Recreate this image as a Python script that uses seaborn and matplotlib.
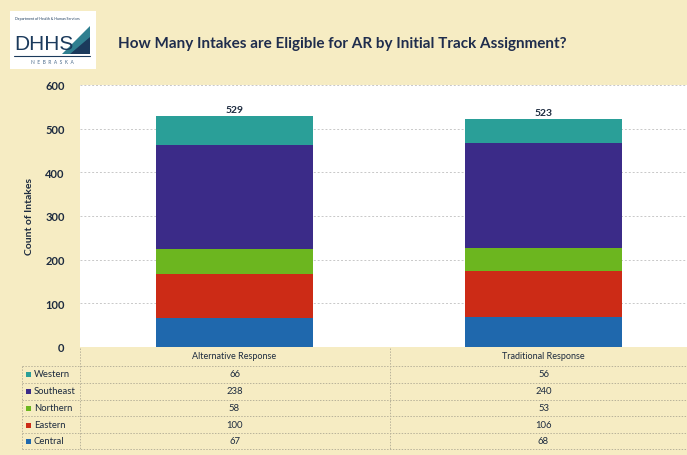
import matplotlib
matplotlib.use('Agg')
import matplotlib.pyplot as plt
import numpy as np
import pandas as pd
import seaborn as sns
from matplotlib.lines import Line2D
from matplotlib.patches import Rectangle, Polygon
from matplotlib.transforms import blended_transform_factory

# data
tracks = ['Alternative Response', 'Traditional Response']
regions = ['Central', 'Eastern', 'Northern', 'Southeast', 'Western']
central = [67, 68]
eastern = [100, 106]
northern = [58, 53]
southeast = [238, 240]
western = [66, 56]
totals = [529, 523]

colors = {'Central': '#1f68ad', 'Eastern': '#cc2b16', 'Northern': '#6cb61f',
          'Southeast': '#3b2b88', 'Western': '#2a9f98'}

df = pd.DataFrame({'Track': tracks, 'Central': central, 'Eastern': eastern,
                   'Northern': northern, 'Southeast': southeast, 'Western': western})
cum = df[regions].cumsum(axis=1)
cum['Track'] = df['Track']

sns.set_style('white')
plt.rcParams['font.family'] = ['Lato', 'DejaVu Sans']

W, H = 687, 456
bg = '#f6ecc3'
fig = plt.figure(figsize=(W / 100, H / 100), dpi=100)
fig.patch.set_facecolor(bg)

def fx(px):
    return px / W

def fy(py):
    return 1 - py / H

# plot area (right edge runs past the picture, as in the scan)
left, right, top, bottom = 80, 698, 86, 348
ax = fig.add_axes([fx(left), fy(bottom), fx(right - left), (bottom - top) / H])
ax.set_facecolor('white')

# stacked bars: draw cumulative heights from the top segment down
for reg in regions[::-1]:
    sns.barplot(data=cum, x='Track', y=reg, color=colors[reg], width=0.51,
                saturation=1, linewidth=0, ax=ax, zorder=3)

ax.set_ylim(0, 600)
ax.set_xlim(-0.5, 1.5)
ax.set_yticks(range(0, 601, 100))
ax.grid(axis='y', color='#c8c8c8', linestyle=(0, (2, 2)), linewidth=0.7, zorder=0)
for s in ax.spines.values():
    s.set_visible(False)
ax.tick_params(axis='y', length=0, pad=11, labelsize=8, labelcolor='#1d2b3f')
for t in ax.get_yticklabels():
    t.set_fontweight('bold')
ax.set_xlabel('')
ax.set_ylabel('Count of Intakes', fontsize=7.5, fontweight='bold', color='#1d2b3f', labelpad=8)
ax.set_xticks([0, 1])
ax.set_xticklabels(tracks, fontsize=6.5, color='#1d2b3f')
ax.tick_params(axis='x', length=0, pad=3)

for i, tot in enumerate(totals):
    ax.text(i, tot + 4, str(tot), ha='center', va='bottom', fontsize=7.5,
            fontweight='bold', color='#1d2b3f', zorder=4)

# data table under the chart
line_kw = dict(color='#b9b39a', linestyle=(0, (1.5, 1.5)), linewidth=0.7)
row_lines = [367, 384, 401, 417, 434, 450]
for y in row_lines:
    fig.add_artist(Line2D([fx(22), 1], [fy(y), fy(y)], **line_kw))
fig.add_artist(Line2D([fx(80), fx(80)], [fy(349), fy(450)], **line_kw))
fig.add_artist(Line2D([fx(22), fx(22)], [fy(367), fy(450)], **line_kw))
fig.add_artist(Line2D([fx(390), fx(390)], [fy(349), fy(450)], **line_kw))

trans = blended_transform_factory(ax.transData, fig.transFigure)
row_order = ['Western', 'Southeast', 'Northern', 'Eastern', 'Central']
row_y = [375, 392, 409, 426, 442]
for reg, y in zip(row_order, row_y):
    fig.add_artist(Rectangle((fx(26), fy(y) - 2.5 / H), 5 / W, 5 / H,
                             transform=fig.transFigure, facecolor=colors[reg],
                             edgecolor='none'))
    fig.text(fx(34), fy(y), reg, color='#1d2b3f', fontsize=6.8, va='center', ha='left')
    for i in range(len(tracks)):
        ax.text(i, fy(y), str(df.loc[i, reg]), transform=trans, ha='center',
                va='center', fontsize=6.8, color='#1d2b3f')

# title
fig.text(fx(118), fy(44), 'How Many Intakes are Eligible for AR by Initial Track Assignment?',
         fontsize=11, fontweight='bold', color='#1f2d4d', va='center', ha='left')

# logo block
fig.add_artist(Rectangle((fx(10), fy(70)), fx(86), (70 - 12) / H, transform=fig.transFigure,
                         facecolor='white', edgecolor='none'))
fig.text(fx(15), fy(19), 'Department of Health & Human Services', fontsize=2.6,
         color='#1b3a5c', va='center', ha='left')
fig.text(fx(14), fy(45), 'DHHS', fontsize=15, color='#1b3a5c', va='center', ha='left',
         family=['Liberation Sans Narrow', 'Liberation Sans', 'DejaVu Sans'])
fig.add_artist(Polygon([(fx(62), fy(55)), (fx(90), fy(55)), (fx(90), fy(27))],
                       closed=True, transform=fig.transFigure, facecolor='#2f7f90',
                       edgecolor='none'))
fig.add_artist(Polygon([(fx(70), fy(55)), (fx(90), fy(55)), (fx(90), fy(38))],
                       closed=True, transform=fig.transFigure, facecolor='#1b3a5c',
                       edgecolor='none'))
fig.add_artist(Line2D([fx(14), fx(90)], [fy(57), fy(57)], color='#1b3a5c', linewidth=0.8))
fig.text(fx(52), fy(63), 'N  E  B  R  A  S  K  A', fontsize=3.5, color='#4a6a8a',
         va='center', ha='center')

fig.savefig('out.png', dpi=100, facecolor=fig.get_facecolor())
